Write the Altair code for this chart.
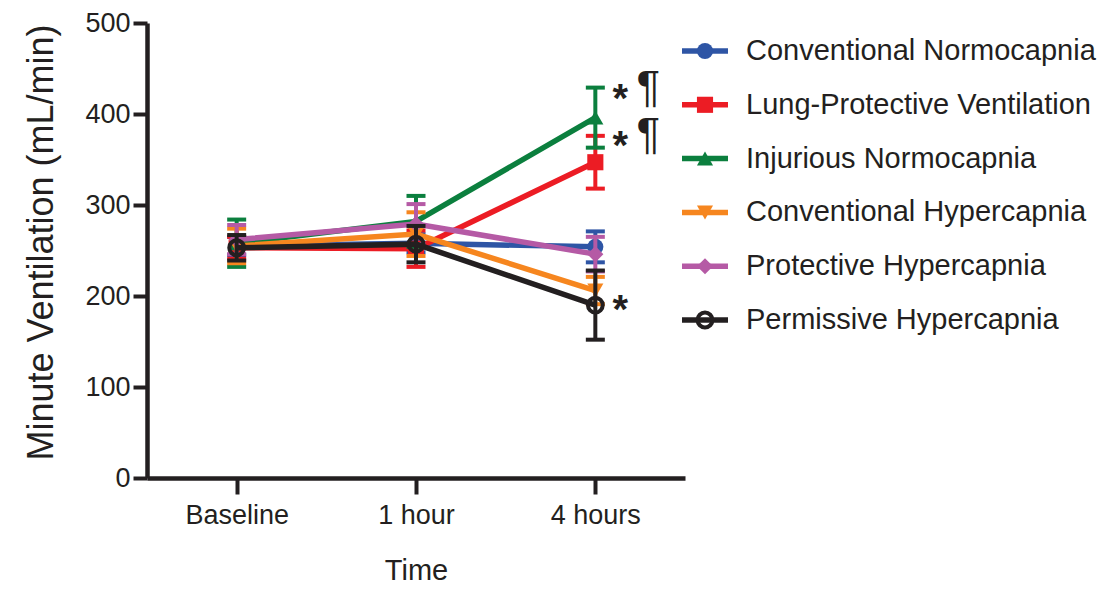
import altair as alt
import pandas as pd

# ---------------- data ----------------
TIMES = ["Baseline", "1 hour", "4 hours"]
SERIES = [
    "Conventional Normocapnia",
    "Lung-Protective Ventilation",
    "Injurious Normocapnia",
    "Conventional Hypercapnia",
    "Protective Hypercapnia",
    "Permissive Hypercapnia",
]
COLORS = ["#2E55A5", "#EC1C24", "#0B7F3E", "#F6861F", "#B55AA5", "#231F20"]
SHAPES = ["circle", "square", "triangle-up", "triangle-down", "diamond", "circle"]
FILLED = [True, True, True, True, True, False]

MEAN_CONV_NORMO = [255, 258, 254]
ERR_CONV_NORMO = [10, 10, 17]
MEAN_LUNG_PROT = [253, 252, 347]
ERR_LUNG_PROT = [12, 20, 29]
MEAN_INJ_NORMO = [258, 282, 396]
ERR_INJ_NORMO = [26, 28, 33]
MEAN_CONV_HYPER = [255, 268, 206]
ERR_CONV_HYPER = [19, 24, 15]
MEAN_PROT_HYPER = [262, 279, 246]
ERR_PROT_HYPER = [16, 22, 19]
MEAN_PERM_HYPER = [253, 257, 190]
ERR_PERM_HYPER = [14, 20, 38]

MEANS = [MEAN_CONV_NORMO, MEAN_LUNG_PROT, MEAN_INJ_NORMO,
         MEAN_CONV_HYPER, MEAN_PROT_HYPER, MEAN_PERM_HYPER]
ERRS = [ERR_CONV_NORMO, ERR_LUNG_PROT, ERR_INJ_NORMO,
        ERR_CONV_HYPER, ERR_PROT_HYPER, ERR_PERM_HYPER]

ANNOT_TIME = ["4 hours", "4 hours", "4 hours"]
ANNOT_VALUE = [426, 375, 194]
ANNOT_STAR = ["*", "*", "*"]
ANNOT_PARA = ["¶", "¶", ""]

Y_TICKS = [0, 100, 200, 300, 400, 500]

# ---------------- tables ----------------
rows = []
for s, m_list, e_list in zip(SERIES, MEANS, ERRS):
    for t, m, e in zip(TIMES, m_list, e_list):
        rows.append({"series": s, "time": t, "mean": m, "lo": m - e, "hi": m + e})
df = pd.DataFrame(rows)
annot = pd.DataFrame({"time": ANNOT_TIME, "value": ANNOT_VALUE,
                      "star": ANNOT_STAR, "para": ANNOT_PARA})
legend_df = pd.DataFrame({"series": SERIES})

FONT = "Liberation Sans, Arial, sans-serif"
INK = "#231F20"

W, H = 538, 455

x_enc = alt.X(
    "time:N", sort=TIMES,
    scale=alt.Scale(type="point", domain=TIMES, padding=0.5),
    axis=alt.Axis(
        title="Time", labelAngle=0, labelFont=FONT, labelFontSize=27,
        labelColor=INK, labelPadding=8, tickSize=16, tickWidth=4,
        tickColor=INK, domainWidth=4.5, domainColor=INK,
        titleFont=FONT, titleFontSize=29, titleFontWeight="normal",
        titleColor=INK, titleX=269, titleY=101,
        titleBaseline="alphabetic", grid=False,
    ),
)
y_scale = alt.Scale(domain=[0, 500], nice=False, zero=True)
y_axis = alt.Axis(
    title="Minute Ventilation (mL/min)", values=Y_TICKS, labelFont=FONT,
    labelFontSize=27, labelColor=INK, labelPadding=3, tickSize=14,
    tickWidth=4, tickColor=INK, domainWidth=4.5, domainColor=INK,
    titleFont=FONT, titleFontSize=36, titleFontWeight="normal",
    titleColor=INK, titleX=-95, titleY=219, titleBaseline="alphabetic",
    titleAngle=-90, grid=False,
)

base = alt.Chart(df)
main_layers = []
for i, (s, c, shp, fl) in enumerate(zip(SERIES, COLORS, SHAPES, FILLED)):
    sub = base.transform_filter(alt.datum.series == s)
    if i == 0:
        rx = x_enc
        ry = alt.Y("lo:Q", scale=y_scale, axis=y_axis)
    else:
        rx = alt.X("time:N", sort=TIMES)
        ry = alt.Y("lo:Q")
    rule = sub.mark_rule(color=c, strokeWidth=4, opacity=1).encode(
        x=rx, y=ry, y2="hi:Q")
    cap_hi = sub.mark_tick(color=c, size=19, thickness=4, opacity=1).encode(
        x=alt.X("time:N", sort=TIMES), y=alt.Y("hi:Q"))
    cap_lo = sub.mark_tick(color=c, size=19, thickness=4, opacity=1).encode(
        x=alt.X("time:N", sort=TIMES), y=alt.Y("lo:Q"))
    line = sub.mark_line(color=c, strokeWidth=5.5, opacity=1).encode(
        x=alt.X("time:N", sort=TIMES), y=alt.Y("mean:Q"))
    if fl:
        pt = sub.mark_point(shape=shp, filled=True, color=c, size=260, opacity=1)
    else:
        pt = sub.mark_point(shape=shp, filled=False, color=c, size=220,
                            strokeWidth=4, opacity=1)
    pt = pt.encode(x=alt.X("time:N", sort=TIMES), y=alt.Y("mean:Q"))
    main_layers += [rule, cap_hi, cap_lo, line, pt]

stars = alt.Chart(annot).mark_text(
    font=FONT, fontSize=40, fontWeight="bold", color=INK, align="center",
    baseline="alphabetic", dx=25, dy=22,
).encode(x=alt.X("time:N", sort=TIMES), y=alt.Y("value:Q"), text="star:N")
paras = alt.Chart(annot).mark_text(
    font=FONT, fontSize=44, color=INK, align="center",
    baseline="alphabetic", dx=53, dy=12,
).encode(x=alt.X("time:N", sort=TIMES), y=alt.Y("value:Q"), text="para:N")
main_layers += [stars, paras]

main = alt.layer(*main_layers)

# ---------------- legend (drawn with its own point scale) ----------------
leg_y = alt.Y("series:N", sort=SERIES,
              scale=alt.Scale(type="point", domain=SERIES, range=[28, 297], padding=0),
              axis=None)
lbase = alt.Chart(legend_df)
legend_layers = []
for s, c, shp, fl in zip(SERIES, COLORS, SHAPES, FILLED):
    sub = lbase.transform_filter(alt.datum.series == s)
    lr = sub.mark_rule(color=c, strokeWidth=5.5).encode(
        x=alt.value(535), x2=alt.value(581), y=leg_y)
    if fl:
        lp = sub.mark_point(shape=shp, filled=True, color=c, size=260, opacity=1)
    else:
        lp = sub.mark_point(shape=shp, filled=False, color=c, size=220,
                            strokeWidth=4, opacity=1)
    lp = lp.encode(x=alt.value(558), y=leg_y)
    legend_layers += [lr, lp]
ltext = lbase.mark_text(
    font=FONT, fontSize=29, color=INK, align="left", baseline="middle",
).encode(x=alt.value(599), y=leg_y, text="series:N")
legend_layers.append(ltext)
legend = alt.layer(*legend_layers)

chart = (
    alt.layer(main, legend)
    .resolve_scale(y="independent")
    .properties(
        width=W, height=H,
        autosize=alt.AutoSizeParams(type="none"),
        padding={"left": 139, "top": 15, "right": 420, "bottom": 107},
        background="white",
    )
    .configure_view(stroke=None)
)

chart.save("out.html", embed_options={"renderer": "svg", "actions": False})
